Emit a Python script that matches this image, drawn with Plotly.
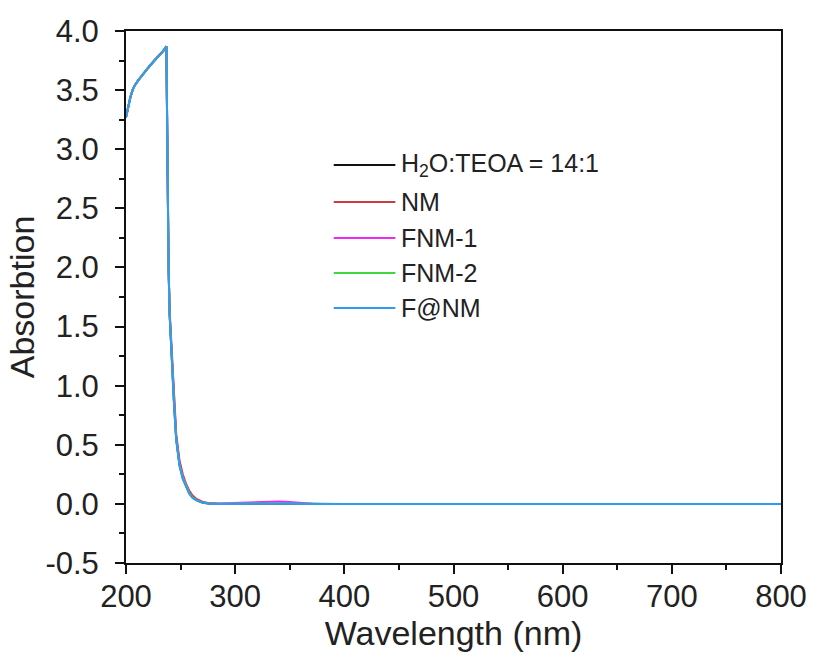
import plotly.graph_objects as go

# ---------------- data ----------------
wavelength = [200, 202, 204, 206, 208, 211, 215, 220, 225, 230, 234, 237, 238, 239, 240, 242, 244,
              246, 249, 252, 255, 258, 261, 265, 270, 276, 285, 300, 310, 320, 330, 340,
              350, 360, 370, 380, 400, 500, 600, 700, 800]

h2o_teoa = [3.27, 3.37, 3.44, 3.50, 3.54, 3.58, 3.63, 3.685, 3.74, 3.79, 3.83, 3.87, 2.60, 2.00, 1.60, 1.20, 0.85,
            0.55, 0.33, 0.22, 0.15, 0.09, 0.055, 0.030, 0.012, 0.003, 0.000, 0.000, 0.002, 0.004, 0.005, 0.004,
            0.003, 0.001, 0.000, 0.000, 0.000, 0.000, 0.000, 0.000, 0.000]

nm = [3.27, 3.37, 3.44, 3.50, 3.54, 3.58, 3.63, 3.685, 3.74, 3.79, 3.83, 3.87, 2.62, 2.03, 1.63, 1.24, 0.89,
      0.59, 0.37, 0.25, 0.17, 0.11, 0.070, 0.040, 0.018, 0.006, 0.002, 0.002, 0.004, 0.006, 0.007, 0.006,
      0.004, 0.002, 0.001, 0.000, 0.000, 0.000, 0.000, 0.000, 0.000]

fnm1 = [3.27, 3.37, 3.44, 3.50, 3.54, 3.58, 3.63, 3.685, 3.74, 3.79, 3.83, 3.87, 2.60, 2.00, 1.60, 1.21, 0.86,
        0.56, 0.34, 0.23, 0.15, 0.09, 0.056, 0.031, 0.013, 0.004, 0.003, 0.008, 0.015, 0.020, 0.022, 0.021,
        0.016, 0.008, 0.002, 0.000, 0.000, 0.000, 0.000, 0.000, 0.000]

fnm2 = [3.27, 3.37, 3.44, 3.50, 3.54, 3.58, 3.63, 3.685, 3.74, 3.79, 3.83, 3.87, 2.60, 2.00, 1.60, 1.20, 0.85,
        0.55, 0.33, 0.22, 0.15, 0.09, 0.055, 0.030, 0.012, 0.003, 0.001, 0.002, 0.004, 0.006, 0.007, 0.006,
        0.004, 0.002, 0.000, 0.000, 0.000, 0.000, 0.000, 0.000, 0.000]

f_at_nm = [3.27, 3.37, 3.44, 3.50, 3.54, 3.58, 3.63, 3.685, 3.74, 3.79, 3.83, 3.87, 2.59, 1.99, 1.59, 1.19, 0.84,
           0.54, 0.32, 0.21, 0.14, 0.085, 0.050, 0.027, 0.010, 0.002, 0.000, 0.001, 0.003, 0.005, 0.006, 0.005,
           0.003, 0.001, 0.000, 0.000, 0.000, 0.000, 0.000, 0.000, 0.000]

series_names = ["H<sub>2</sub>O:TEOA = 14:1", "NM", "FNM-1", "FNM-2", "F@NM"]
series_values = [h2o_teoa, nm, fnm1, fnm2, f_at_nm]
series_colors = ["#111111", "#cc3b3f", "#f028f0", "#3ed83e", "#2f9cf4"]

x_ticks = [200, 300, 400, 500, 600, 700, 800]
x_tick_text = ["200", "300", "400", "500", "600", "700", "800"]
y_ticks = [-0.5, 0.0, 0.5, 1.0, 1.5, 2.0, 2.5, 3.0, 3.5, 4.0]
y_tick_text = ["-0.5", "0.0", "0.5", "1.0", "1.5", "2.0", "2.5", "3.0", "3.5", "4.0"]

# ---------------- figure ----------------
W, H = 819, 659
L, R, T, B = 126, 785, 31, 563
FONT = "Liberation Sans, Arial, sans-serif"

fig = go.Figure()
for name, vals, col in zip(series_names, series_values, series_colors):
    fig.add_trace(go.Scatter(x=wavelength, y=vals, mode="lines", name=name,
                             line=dict(color=col, width=2), showlegend=False))

# custom legend (long line samples as in the reference)
leg_rows = [165, 202, 238, 273, 308]
lx0, lx1, tx = 335, 397, 401
def px2paper_x(px):
    return (px - L) / (R - L)
def px2paper_y(py):
    return (B - py) / (B - T)

shapes = []
annotations = []
for name, col, py in zip(series_names, series_colors, leg_rows):
    shapes.append(dict(type="line", xref="paper", yref="paper",
                       x0=px2paper_x(lx0), x1=px2paper_x(lx1),
                       y0=px2paper_y(py), y1=px2paper_y(py),
                       line=dict(color=col, width=2)))
    annotations.append(dict(xref="paper", yref="paper", x=px2paper_x(tx), y=px2paper_y(py),
                            xanchor="left", yanchor="middle", showarrow=False, text=name,
                            font=dict(family=FONT, size=25, color="#222222")))

axis_common = dict(showgrid=False, zeroline=False, showline=True, linewidth=2, linecolor="#111111",
                   mirror=True, ticks="outside", ticklen=9, tickwidth=2, tickcolor="#111111",
                   tickfont=dict(family=FONT, size=31, color="#222222"))

fig.update_layout(
    width=W, height=H,
    margin=dict(l=L, r=W - R, t=T, b=H - B),
    paper_bgcolor="white", plot_bgcolor="white",
    font=dict(family=FONT, color="#222222"),
    xaxis=dict(range=[200, 800], tickvals=x_ticks, ticktext=x_tick_text,
               ticklabelstandoff=-4,
               minor=dict(ticks="outside", ticklen=5, tickwidth=2, dtick=50, tickcolor="#111111"),
               title=dict(text="Wavelength (nm)", font=dict(family=FONT, size=34, color="#222222"), standoff=0),
               **axis_common),
    yaxis=dict(range=[-0.5, 4.0], tickvals=y_ticks, ticktext=y_tick_text,
               ticklabelstandoff=10,
               minor=dict(ticks="outside", ticklen=5, tickwidth=2, dtick=0.25, tickcolor="#111111"),
               title=dict(text="Absorbtion", font=dict(family=FONT, size=34, color="#222222"), standoff=0),
               **axis_common),
    shapes=shapes,
    annotations=annotations,
    showlegend=False,
)

fig.write_html("out.html")
